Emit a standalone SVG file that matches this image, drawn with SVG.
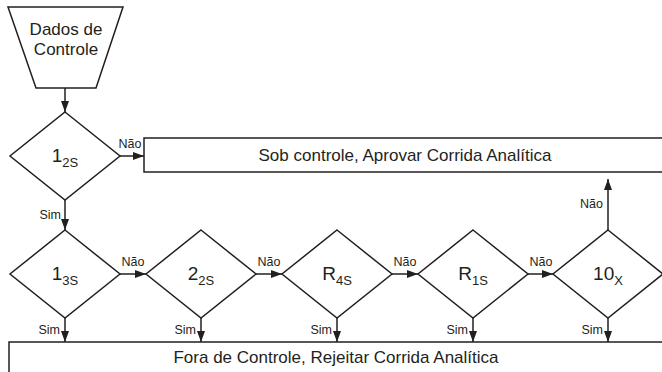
<svg xmlns="http://www.w3.org/2000/svg" width="662" height="372" viewBox="0 0 662 372">
<style>
.s{fill:#fff;stroke:#231f20;stroke-width:1.5}
.c{fill:none;stroke:#231f20;stroke-width:1.5}
text{font-family:"Liberation Sans",Arial,sans-serif;fill:#231f20}
.big{font-size:17px}
.lab{font-size:19px}
.sm{font-size:12.5px}
</style>
<defs>
<marker id="ah" markerWidth="11" markerHeight="8" refX="11" refY="4" orient="auto" markerUnits="userSpaceOnUse">
<path d="M0,0 L11,4 L0,8 Z" fill="#231f20"/>
</marker>
</defs>
<rect width="662" height="372" fill="#fff"/>
<g id="connectors">
<line class="c" x1="65" y1="88" x2="65" y2="112" marker-end="url(#ah)"/>
<line class="c" x1="120" y1="156" x2="144" y2="156" marker-end="url(#ah)"/>
<line class="c" x1="65" y1="200" x2="65" y2="230" marker-end="url(#ah)"/>
<line class="c" x1="120" y1="274" x2="146" y2="274" marker-end="url(#ah)"/>
<line class="c" x1="256" y1="274" x2="282" y2="274" marker-end="url(#ah)"/>
<line class="c" x1="392" y1="274" x2="418" y2="274" marker-end="url(#ah)"/>
<line class="c" x1="528" y1="274" x2="553" y2="274" marker-end="url(#ah)"/>
<line class="c" x1="608" y1="230" x2="608" y2="179" marker-end="url(#ah)"/>
<line class="c" x1="65" y1="318" x2="65" y2="342" marker-end="url(#ah)"/>
<line class="c" x1="201" y1="318" x2="201" y2="342" marker-end="url(#ah)"/>
<line class="c" x1="337" y1="318" x2="337" y2="342" marker-end="url(#ah)"/>
<line class="c" x1="473" y1="318" x2="473" y2="342" marker-end="url(#ah)"/>
<line class="c" x1="608" y1="318" x2="608" y2="342" marker-end="url(#ah)"/>
<text class="sm" x="130" y="148" text-anchor="middle">Não</text>
<text class="sm" x="61" y="219" text-anchor="end">Sim</text>
<text class="sm" x="133" y="266" text-anchor="middle">Não</text>
<text class="sm" x="269" y="266" text-anchor="middle">Não</text>
<text class="sm" x="405" y="266" text-anchor="middle">Não</text>
<text class="sm" x="541" y="266" text-anchor="middle">Não</text>
<text class="sm" x="603" y="208" text-anchor="end">Não</text>
<text class="sm" x="60" y="334" text-anchor="end">Sim</text>
<text class="sm" x="196" y="334" text-anchor="end">Sim</text>
<text class="sm" x="332" y="334" text-anchor="end">Sim</text>
<text class="sm" x="468" y="334" text-anchor="end">Sim</text>
<text class="sm" x="603" y="334" text-anchor="end">Sim</text>
</g>
<g id="dados">
<polygon class="s" points="8,7 123,7 96,88 36,88"/>
<text class="big" x="66" y="35" text-anchor="middle">Dados de</text>
<text class="big" x="66" y="55" text-anchor="middle">Controle</text>
</g>
<g id="r12s">
<polygon class="s" points="65,112 120,156 65,200 10,156"/>
<text class="lab" x="65" y="162" text-anchor="middle">1<tspan font-size="13" dy="5">2S</tspan></text>
</g>
<g id="aprovar">
<rect class="s" x="144" y="138" width="530" height="34"/>
<text class="big" x="405" y="161" text-anchor="middle">Sob controle, Aprovar Corrida Analítica</text>
</g>
<g id="r13s">
<polygon class="s" points="65,230 120,274 65,318 10,274"/>
<text class="lab" x="65" y="280" text-anchor="middle">1<tspan font-size="13" dy="5">3S</tspan></text>
</g>
<g id="r22s">
<polygon class="s" points="201,230 256,274 201,318 146,274"/>
<text class="lab" x="201" y="280" text-anchor="middle">2<tspan font-size="13" dy="5">2S</tspan></text>
</g>
<g id="rR4s">
<polygon class="s" points="337,230 392,274 337,318 282,274"/>
<text class="lab" x="337" y="280" text-anchor="middle">R<tspan font-size="13" dy="5">4S</tspan></text>
</g>
<g id="rR1s">
<polygon class="s" points="473,230 528,274 473,318 418,274"/>
<text class="lab" x="473" y="280" text-anchor="middle">R<tspan font-size="13" dy="5">1S</tspan></text>
</g>
<g id="r10x">
<polygon class="s" points="608,230 663,274 608,318 553,274"/>
<text class="lab" x="608" y="280" text-anchor="middle">10<tspan font-size="13" dy="5">X</tspan></text>
</g>
<g id="rejeitar">
<rect class="s" x="9" y="342" width="670" height="40"/>
<text class="big" x="336" y="363" text-anchor="middle">Fora de Controle, Rejeitar Corrida Analítica</text>
</g>
</svg>
